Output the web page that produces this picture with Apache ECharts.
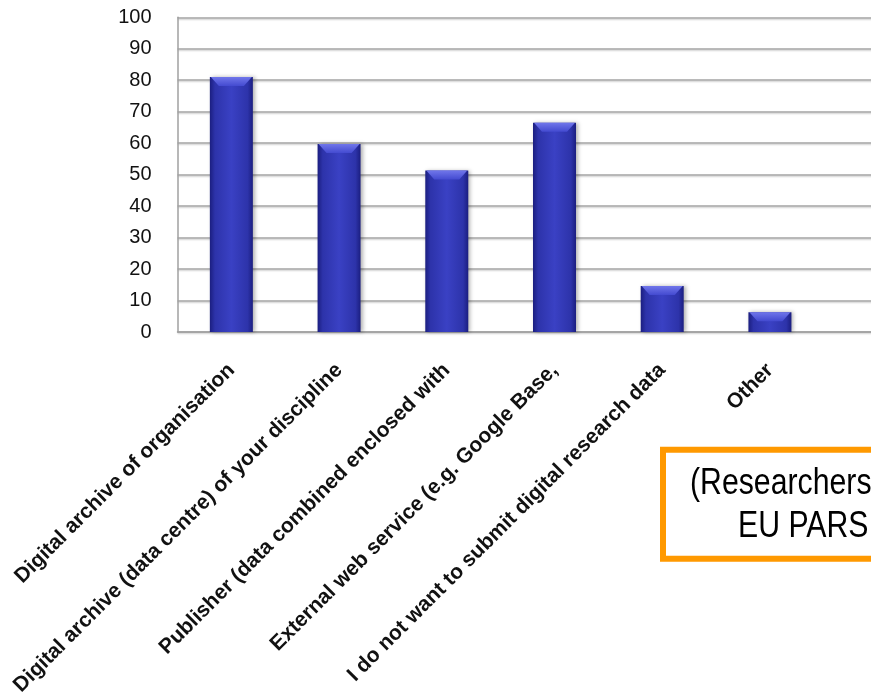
<!DOCTYPE html>
<html>
<head>
<meta charset="utf-8">
<script src="https://cdn.jsdelivr.net/npm/echarts@6/dist/echarts.min.js"></script>
<style>html,body{margin:0;padding:0;background:#fff}#c{width:871px;height:692px}</style>
</head>
<body>
<div id="c"></div>
<script>
var categories = [
  "Digital archive of organisation",
  "Digital archive (data centre) of your discipline",
  "Publisher (data combined enclosed with",
  "External web service (e.g. Google Base,",
  "I do not want to submit digital research data",
  "Other"
];
var values = [81, 59.7, 51.3, 66.5, 14.6, 6.3];
var yTicks = [0, 10, 20, 30, 40, 50, 60, 70, 80, 90, 100];
var noteLines = ["(Researchers", "EU PARS"];

// the plot continues past the right edge of the picture: one empty trailing slot
var axisSlots = categories.concat(['']);

var chart = echarts.init(document.getElementById('c'), null, {renderer: 'canvas'});
var barGrad = new echarts.graphic.LinearGradient(0, 0, 1, 0, [
  {offset: 0, color: '#1b1e80'},
  {offset: 0.12, color: '#2d33aa'},
  {offset: 0.5, color: '#3a41c4'},
  {offset: 0.88, color: '#2d33aa'},
  {offset: 1, color: '#1b1e80'}
]);
var BAR_W = 43;
var noteFont = '36px "Liberation Sans", Arial, sans-serif';
chart.setOption({
  animation: false,
  backgroundColor: '#fff',
  grid: {left: 177.5, top: 17.3, bottom: 360, width: 754, containLabel: false, outerBoundsMode: 'none'},
  xAxis: {
    type: 'category',
    data: axisSlots,
    boundaryGap: true,
    axisLine: {show: true, lineStyle: {color: '#a0a0a0', width: 1.5}},
    axisTick: {show: false},
    axisLabel: {
      interval: 0, rotate: 45, margin: 35,
      color: '#111', fontFamily: 'Liberation Sans, Arial, sans-serif',
      fontWeight: 'bold', fontSize: 21
    },
    splitLine: {show: false}
  },
  yAxis: {
    type: 'value',
    min: yTicks[0], max: yTicks[yTicks.length - 1], interval: 10,
    axisLine: {show: true, lineStyle: {color: '#a0a0a0', width: 1.5}},
    axisTick: {show: false},
    axisLabel: {margin: 26, color: '#111', fontFamily: 'Liberation Sans, Arial, sans-serif', fontSize: 20},
    splitLine: {show: true, lineStyle: {color: '#a3a3a3', width: 1.5, shadowColor: 'rgba(0,0,0,0.15)', shadowBlur: 1, shadowOffsetY: 1.5}}
  },
  series: [{
    type: 'bar',
    data: values,
    barWidth: BAR_W,
    itemStyle: {color: barGrad, shadowColor: 'rgba(0,0,0,0.3)', shadowBlur: 4, shadowOffsetX: 2, shadowOffsetY: 0}
  }, {
    // bevelled top of each bar, placed through the same axes
    type: 'custom',
    data: values.map(function (v, i) { return [i, v]; }),
    silent: true,
    z: 3,
    renderItem: function (params, api) {
      var top = api.coord([api.value(0), api.value(1)]);
      var x0 = top[0] - BAR_W / 2, x1 = top[0] + BAR_W / 2, yt = top[1];
      var b = 9;
      return {
        type: 'polygon',
        shape: {points: [[x0 + 1, yt], [x1 - 1, yt], [x1 - b, yt + b], [x0 + b, yt + b]]},
        style: {fill: new echarts.graphic.LinearGradient(0, 0, 0, 1, [
          {offset: 0, color: '#7076ea'},
          {offset: 1, color: '#434ad0'}
        ])}
      };
    }
  }],
  graphic: [
    {type: 'rect', shape: {x: 663, y: 449.7, width: 400, height: 109}, style: {fill: '#fff', stroke: '#ff9900', lineWidth: 6}},
    {type: 'text', x: 690, y: 484.4, scaleX: 0.84, style: {text: noteLines[0], font: noteFont, fill: '#000', align: 'left', verticalAlign: 'middle'}},
    {type: 'text', x: 738, y: 527.4, scaleX: 0.84, style: {text: noteLines[1], font: noteFont, fill: '#000', align: 'left', verticalAlign: 'middle'}}
  ]
});
</script>
</body>
</html>
